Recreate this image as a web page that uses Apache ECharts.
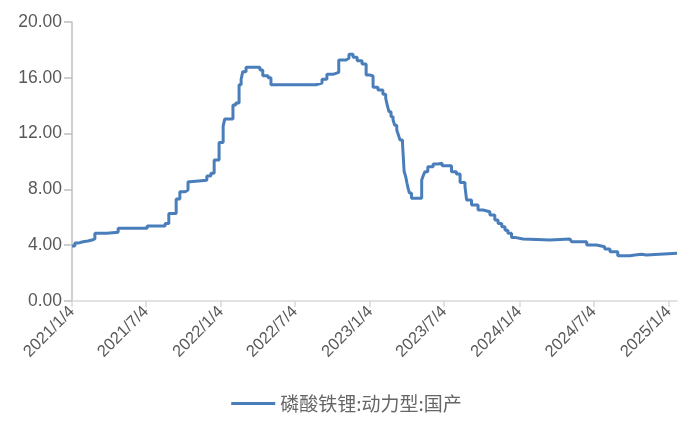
<!DOCTYPE html>
<html>
<head>
<meta charset="utf-8">
<script src="https://cdn.jsdelivr.net/npm/echarts@6/dist/echarts.min.js"></script>
<style>html,body{margin:0;padding:0;background:#fff;}#c{width:693px;height:440px;}</style>
</head>
<body>
<div id="c"></div>
<script>
const seriesName = '磷酸铁锂:动力型:国产';
const dates = [
  '2021-01-04','2021-01-11','2021-01-19','2021-01-31','2021-02-12','2021-02-22','2021-03-01','2021-03-30','2021-04-27',
  '2021-07-07','2021-08-20','2021-08-29','2021-09-16','2021-09-25','2021-10-08','2021-10-15','2021-10-20','2021-11-30',
  '2021-12-10','2021-12-18','2021-12-30','2022-01-09','2022-01-13','2022-02-02','2022-02-09','2022-02-17','2022-02-22',
  '2022-02-26','2022-03-06','2022-04-09','2022-04-16','2022-04-29','2022-05-06','2022-08-24','2022-09-08','2022-09-20',
  '2022-10-05','2022-10-19','2022-11-06','2022-11-13','2022-11-23','2022-12-03','2022-12-15','2022-12-25','2023-01-03',
  '2023-01-11','2023-01-23','2023-02-04','2023-02-11','2023-02-15','2023-02-19','2023-02-24','2023-03-01','2023-03-05',
  '2023-03-10','2023-03-14','2023-03-18','2023-03-24','2023-03-28','2023-04-01','2023-04-04','2023-04-07','2023-04-10',
  '2023-04-15','2023-05-10','2023-05-14','2023-05-18','2023-05-25','2023-06-07','2023-06-19',
  '2023-06-29','2023-07-22','2023-08-03','2023-08-12','2023-08-24','2023-08-28','2023-09-09','2023-09-25','2023-10-07',
  '2023-10-24','2023-11-05','2023-11-13','2023-11-22','2023-11-30','2023-12-07','2023-12-16','2023-12-24','2024-01-13','2024-03-19','2024-05-07',
  '2024-05-11','2024-06-17','2024-07-11','2024-07-31','2024-08-13','2024-09-01','2024-10-01','2024-10-13','2024-10-29',
  '2024-11-10','2025-01-24'
];
const values = [
  3.95,4.15,4.25,4.30,4.37,4.45,4.85,4.92,5.21,
  5.38,5.55,6.28,7.31,7.84,7.96,8.55,8.65,8.96,
  9.15,10.10,11.37,12.54,13.05,14.05,14.20,15.50,15.90,
  16.44,16.75,16.56,16.15,16.00,15.50,15.62,15.89,16.25,
  16.39,17.28,17.40,17.68,17.47,17.23,16.99,16.20,16.13,
  15.32,15.13,14.82,14.53,14.00,13.57,13.20,12.97,12.60,
  12.26,11.90,11.54,11.32,9.30,8.90,8.44,8.05,7.74,
  7.36,8.67,9.00,9.27,9.63,9.82,9.87,
  9.70,9.27,9.10,8.50,8.20,7.24,6.88,6.52,6.40,
  6.16,5.80,5.55,5.33,5.08,4.85,4.56,4.44,4.37,4.44,4.40,
  4.25,4.01,3.89,3.73,3.53,3.25,3.30,3.35,3.30,
  3.42,3.37
];
const xTickDates = ['2021-01-04','2021-07-04','2022-01-04','2022-07-04','2023-01-04','2023-07-04','2024-01-04','2024-07-04','2025-01-04'];
const xTickLabels = ['2021/1/4','2021/7/4','2022/1/4','2022/7/4','2023/1/4','2023/7/4','2024/1/4','2024/7/4','2025/1/4'];
const yTicks = [0,4,8,12,16,20];

const DAY = 86400000;
const toDay = s => { const p = s.split('-'); return Math.round(Date.UTC(+p[0], +p[1]-1, +p[2]) / DAY); };
const day0 = toDay(dates[0]);
const data = dates.map((d,i) => [toDay(d) - day0, values[i]]);
const tickDays = xTickDates.map(d => toDay(d) - day0);
const labelMap = {};
tickDays.forEach((t,i) => { labelMap[t] = xTickLabels[i]; });

const chart = echarts.init(document.getElementById('c'));
chart.setOption({
  animation: false,
  grid: { left: 72, right: 16, top: 22, bottom: 139, containLabel: false },
  xAxis: {
    type: 'value',
    min: 0,
    max: toDay(dates[dates.length-1]) - day0,
    axisLine: { show: true, onZero: false, lineStyle: { color: '#d9d9d9', width: 1.5 } },
    axisTick: { show: true, customValues: tickDays, length: 6, lineStyle: { color: '#d9d9d9', width: 1.5 } },
    axisLabel: {
      customValues: tickDays,
      rotate: 45,
      color: '#595959',
      fontFamily: 'Liberation Sans',
      fontSize: 16.5,
      margin: 8,
      formatter: v => labelMap[Math.round(v)] || ''
    },
    splitLine: { show: false }
  },
  yAxis: {
    type: 'value',
    min: 0, max: 20, interval: 4,
    axisLine: { show: true, lineStyle: { color: '#bfbfbf', width: 1.5 } },
    axisTick: { show: true, length: 8, lineStyle: { color: '#bfbfbf', width: 1.5 } },
    axisLabel: {
      color: '#595959', fontFamily: 'Liberation Sans', fontSize: 17.5, margin: 10,
      formatter: v => v.toFixed(2)
    },
    splitLine: { show: false }
  },
  legend: {
    bottom: 22, left: 'center',
    itemWidth: 44, itemHeight: 3, itemGap: 7,
    icon: 'rect',
    textStyle: { color: '#666666', fontSize: 19, fontFamily: 'Noto Sans CJK SC' },
    data: [{ name: seriesName, icon: 'rect' }]
  },
  series: [{
    name: seriesName,
    type: 'line',
    step: 'end',
    data: data,
    showSymbol: false,
    symbol: 'none',
    lineStyle: { color: '#4a7ebb', width: 3 },
    itemStyle: { color: '#4a7ebb' }
  }]
});
</script>
</body>
</html>
